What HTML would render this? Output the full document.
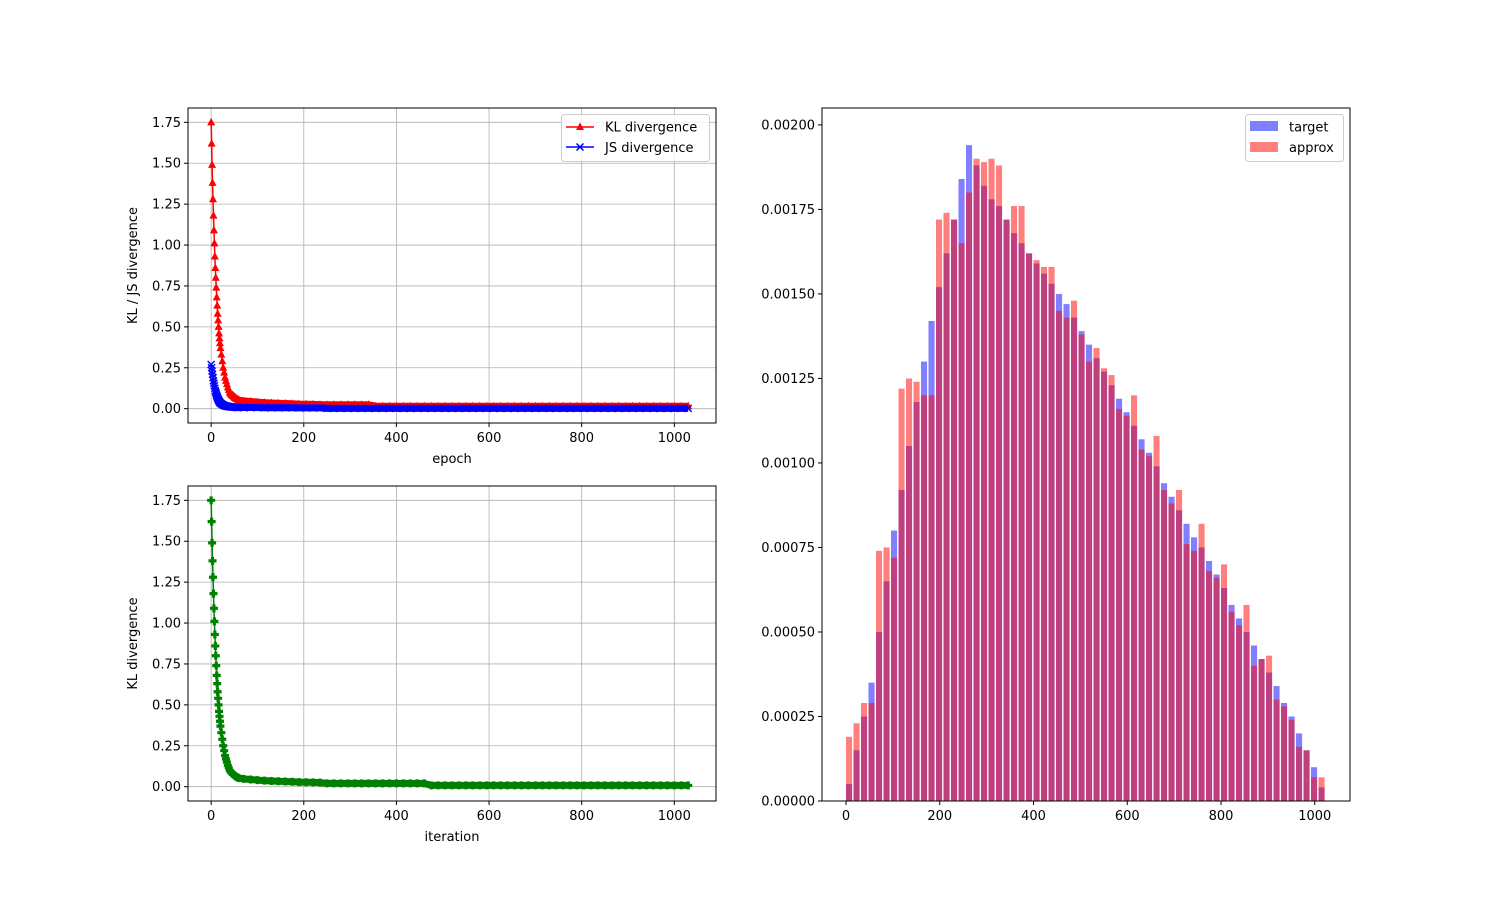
<!DOCTYPE html>
<html><head><meta charset="utf-8"><style>
body{margin:0;background:#fff;}
svg{font-family:"DejaVu Sans","Liberation Sans",sans-serif;}
</style></head><body>
<svg id="fig" width="1500" height="900" viewBox="0 0 1500 900" xmlns="http://www.w3.org/2000/svg"></svg>
<script>
// ---- data ----
const klEarly=[1.75,1.62,1.49,1.38,1.28,1.18,1.09,1.01,0.93,0.86,0.80,0.74,0.68,0.63,0.58,0.54,0.50,0.46,0.43,0.40,0.37];
const klMid=[0.33,0.29,0.25,0.22,0.19,0.17,0.15,0.13,0.115,0.10,0.09,0.085,0.08,0.075,0.07,0.065,0.06,0.058,0.055,0.052];
const klTail=[0.048,0.044,0.04,0.037,0.035,0.033,0.032,0.03,0.028,0.027,0.026,0.025,
0.024,0.024,0.024,0.024,0.024,0.024,0.024,
0.015,0.015,0.015,0.015,0.015,0.015,0.015,0.015,0.015,0.015,0.015,0.015,0.015,0.015,0.015,0.015,0.015,0.015,0.015,0.015,0.015,0.015,0.015,0.015,0.015,0.015,0.015,0.015,0.015,0.015,0.015,0.015,0.015,0.015,0.015,0.015,0.015,0.015,0.015,0.015,0.015,0.015,0.015,0.015,0.015,0.015,0.015];
const jsEarly=[0.27,0.25,0.23,0.21,0.19,0.17,0.155,0.14,0.125,0.11,0.10,0.09,0.08,0.072,0.065,0.058,0.052,0.047,0.042,0.038,0.034];
const jsMid=[0.03,0.026,0.023,0.02,0.018,0.016,0.015,0.014,0.013,0.012,0.011,0.011,0.010,0.010,0.009,0.009,0.008,0.008,0.008,0.007];
const jsTail=[0.007,0.007,0.007,0.006,0.006,0.006,0.006,0.006,0.005,0.005,0.005,0.005,
0.002,0.002,0.002,0.002,0.002,0.002,0.002,0.002,0.002,0.002,0.002,0.002,0.002,0.002,0.002,0.002,0.002,0.002,0.002,0.002,0.002,0.002,0.002,0.002,0.002,0.002,0.002,0.002,0.002,0.002,0.002,0.002,0.002,0.002,0.002,0.002,0.002,0.002,0.002,0.002,0.002,0.002,0.002,0.002,0.002,0.002,0.002,0.002,0.002,0.002,0.002,0.002,0.002,0.002];
const itTail=[0.048,0.044,0.04,0.037,0.035,0.033,0.032,0.03,0.028,0.027,0.026,0.025,
0.02,0.02,0.02,0.02,0.02,0.02,0.02,0.02,0.02,0.02,0.02,0.02,0.02,0.02,0.02,
0.008,0.008,0.008,0.008,0.008,0.008,0.008,0.008,0.008,0.008,0.008,0.008,0.008,0.008,0.008,0.008,0.008,0.008,0.008,0.008,0.008,0.008,0.008,0.008,0.008,0.008,0.008,0.008,0.008,0.008,0.008,0.008,0.008,0.008,0.008,0.008,0.008,0.008,0.008];
const divTicks=[0,0.25,0.5,0.75,1.0,1.25,1.5,1.75];
const divTickLabels=["0.00","0.25","0.50","0.75","1.00","1.25","1.50","1.75"];
const xTicks=[0,200,400,600,800,1000];
const histBinStarts=[0,16,32,48,64,80,96,112,128,144,160,176,192,208,224,240,256,272,288,304,320,336,352,368,384,400,416,432,448,464,480,496,512,528,544,560,576,592,608,624,640,656,672,688,704,720,736,752,768,784,800,816,832,848,864,880,896,912,928,944,960,976,992,1008];
const target=[0.00005,0.00015,0.00025,0.00035,0.0005,0.00065,0.0008,0.00092,0.00105,0.00118,0.0013,0.00142,0.00152,0.00162,0.00172,0.00184,0.00194,0.00188,0.00182,0.00178,0.00176,0.00172,0.00168,0.00165,0.00162,0.00159,0.00156,0.00153,0.0015,0.00147,0.00143,0.00139,0.00135,0.00131,0.00127,0.00123,0.00119,0.00115,0.00111,0.00107,0.00103,0.00099,0.00094,0.0009,0.00086,0.00082,0.00078,0.00075,0.00071,0.00067,0.00063,0.00058,0.00054,0.0005,0.00046,0.00042,0.00038,0.00034,0.00029,0.00025,0.0002,0.00015,0.0001,0.00004];
const approx=[0.00019,0.00023,0.00029,0.00029,0.00074,0.00075,0.00072,0.00122,0.00125,0.00124,0.0012,0.0012,0.00172,0.00174,0.00172,0.00165,0.0018,0.0019,0.00189,0.0019,0.00188,0.00172,0.00176,0.00176,0.00162,0.0016,0.00158,0.00158,0.00145,0.00143,0.00148,0.00138,0.0013,0.00134,0.00128,0.00126,0.00116,0.00114,0.0012,0.00104,0.00102,0.00108,0.00092,0.00088,0.00092,0.00076,0.00074,0.00082,0.00068,0.00066,0.0007,0.00056,0.00052,0.00058,0.0004,0.00042,0.00043,0.0003,0.00028,0.00024,0.00016,0.00015,0.00007,0.00007];
const histYTicks=[0,0.00025,0.0005,0.00075,0.001,0.00125,0.0015,0.00175,0.002];
const histYLabels=["0.00000","0.00025","0.00050","0.00075","0.00100","0.00125","0.00150","0.00175","0.00200"];

const epochs=[];
for(let i=0;i<=20;i++)epochs.push(i);
for(let i=22;i<=60;i+=2)epochs.push(i);
for(let i=70;i<=1030;i+=15)epochs.push(i);
const klVals=klEarly.concat(klMid,klTail);
const jsVals=jsEarly.concat(jsMid,jsTail);
const itVals=klEarly.concat(klMid,itTail);

const NS="http://www.w3.org/2000/svg";
const fig=document.getElementById('fig');
function mk(tag,attrs,parent){const e=document.createElementNS(NS,tag);for(const k in attrs)e.setAttribute(k,attrs[k]);(parent||fig).appendChild(e);return e;}
function txt(s,attrs,parent){const e=mk('text',attrs,parent);e.textContent=s;return e;}

function axes(name,x0,y0,x1,y1,xmin,xmax,ymin,ymax){
  const g=mk('g',{});
  
  
  const sx=v=>x0+(v-xmin)/(xmax-xmin)*(x1-x0);
  const sy=v=>y1-(v-ymin)/(ymax-ymin)*(y1-y0);
  return {g,sx,sy,x0,y0,x1,y1};
}
function frame(A,yt){
  const g=A.g;
  xTicks.forEach(t=>{const l=mk('line',{x1:A.sx(t),x2:A.sx(t),y1:A.y0,y2:A.y1,stroke:'#b0b0b0','stroke-width':0.8},g);});
  yt.forEach(t=>{const l=mk('line',{x1:A.x0,x2:A.x1,y1:A.sy(t),y2:A.sy(t),stroke:'#b0b0b0','stroke-width':0.8},g);});
}
function spines(A,yt,ytl,xlabel,ylabel,ylx){
  const g=A.g;
  const r=mk('rect',{x:A.x0,y:A.y0,width:A.x1-A.x0,height:A.y1-A.y0,fill:'none',stroke:'#000','stroke-width':1},g);
  
  xTicks.forEach(t=>{mk('line',{x1:A.sx(t),x2:A.sx(t),y1:A.y1,y2:A.y1+4,stroke:'#000','stroke-width':1},g);
    const e=txt(String(t),{x:A.sx(t),y:A.y1+19,'font-size':13,'text-anchor':'middle',fill:'#000'},g);});
  yt.forEach((t,i)=>{mk('line',{x1:A.x0-4,x2:A.x0,y1:A.sy(t),y2:A.sy(t),stroke:'#000','stroke-width':1},g);
    const e=txt(ytl[i],{x:A.x0-7,y:A.sy(t)+4.5,'font-size':13,'text-anchor':'end',fill:'#000'},g);});
  if(xlabel){const e=txt(xlabel,{x:(A.x0+A.x1)/2,y:A.y1+40,'font-size':13,'text-anchor':'middle'},g);}
  if(ylabel){const cy=(A.y0+A.y1)/2;const e=txt(ylabel,{x:ylx,y:cy,'font-size':13,'text-anchor':'middle',transform:`rotate(-90 ${ylx} ${cy})`},g);}
}
function series(A,xs,ys,color,marker,name){
  const g=mk('g',{},A.g);
  
  
  const pts=xs.map((x,i)=>A.sx(x).toFixed(2)+','+A.sy(ys[i]).toFixed(2)).join(' ');
  mk('polyline',{points:pts,fill:'none',stroke:color,'stroke-width':1.5},g);
  // dense-marker band for later epochs
  const tailPts=xs.map((x,i)=>[x,ys[i]]).filter(p=>p[0]>=40).map(p=>A.sx(p[0]).toFixed(2)+','+A.sy(p[1]).toFixed(2)).join(' ');
  mk('polyline',{points:tailPts,fill:'none',stroke:color,'stroke-width':7,'stroke-linejoin':'round'},g);
  xs.forEach((x,i)=>{const cx=A.sx(x),cy=A.sy(ys[i]);let m;
    if(marker==='tri')m=mk('polygon',{points:`${cx},${cy-4.5} ${cx-4},${cy+3} ${cx+4},${cy+3}`,fill:color},g);
    else if(marker==='x')m=mk('path',{d:`M${cx-3.5},${cy-3.5}L${cx+3.5},${cy+3.5}M${cx-3.5},${cy+3.5}L${cx+3.5},${cy-3.5}`,stroke:color,'stroke-width':1.5},g);
    else m=mk('path',{d:`M${cx-1.6},${cy-4}h3.2v2.4h2.4v3.2h-2.4v2.4h-3.2v-2.4h-2.4v-3.2h2.4z`,fill:color},g);
    
  });
}

// Top-left
const A1=axes('kl-js-chart',188,108,716,423,-50,1090,-0.0875,1.8375);
frame(A1,divTicks);
series(A1,epochs,klVals,'#ff0000','tri','kl-divergence-series');
series(A1,epochs,jsVals,'#0000ff','x','js-divergence-series');
spines(A1,divTicks,divTickLabels,'epoch','KL / JS divergence',137);
(function(){const g=mk('g',{},A1.g);
 mk('rect',{x:561.5,y:114.5,width:148,height:47,rx:3,fill:'#fff','fill-opacity':0.8,stroke:'#ccc'},g);
 mk('line',{x1:566,x2:594,y1:127,y2:127,stroke:'#ff0000','stroke-width':1.5},g);
 mk('polygon',{points:'580,122.5 576,130 584,130',fill:'#ff0000'},g);
 let t=txt('KL divergence',{x:605,y:131.5,'font-size':13},g);
 mk('line',{x1:566,x2:594,y1:147,y2:147,stroke:'#0000ff','stroke-width':1.5},g);
 mk('path',{d:'M576.5,143.5L583.5,150.5M576.5,150.5L583.5,143.5',stroke:'#0000ff','stroke-width':1.5},g);
 t=txt('JS divergence',{x:605,y:152,'font-size':13},g);
})();

// Bottom-left
const A2=axes('kl-iteration-chart',188,486,716,801,-50,1090,-0.0875,1.8375);
frame(A2,divTicks);
series(A2,epochs,itVals,'#008000','plus','kl-iteration-series');
spines(A2,divTicks,divTickLabels,'iteration','KL divergence',137);

// Right histogram
const A3=axes('histogram-chart',822,108,1350,801,-51.2,1075.2,0,0.00205);
(function(){
  const bw=13;
  const gb=mk('g',{},A3.g);
  histBinStarts.forEach((b,i)=>{const x=A3.sx(b),w=A3.sx(b+bw)-x;const r=mk('rect',{x:x,y:A3.sy(target[i]),width:w,height:A3.y1-A3.sy(target[i]),fill:'#0000ff','fill-opacity':0.5},gb);
    });
  const gr=mk('g',{},A3.g);
  histBinStarts.forEach((b,i)=>{const x=A3.sx(b),w=A3.sx(b+bw)-x;const r=mk('rect',{x:x,y:A3.sy(approx[i]),width:w,height:A3.y1-A3.sy(approx[i]),fill:'#ff0000','fill-opacity':0.5},gr);
    });
})();
spines(A3,histYTicks,histYLabels,null,null,0);
(function(){const g=mk('g',{},A3.g);
 mk('rect',{x:1245.5,y:114.5,width:98,height:47,rx:3,fill:'#fff','fill-opacity':0.8,stroke:'#ccc'},g);
 mk('rect',{x:1250,y:121,width:28,height:10,fill:'#0000ff','fill-opacity':0.5},g);
 let t=txt('target',{x:1289,y:131.5,'font-size':13},g);
 mk('rect',{x:1250,y:142,width:28,height:10,fill:'#ff0000','fill-opacity':0.5},g);
 t=txt('approx',{x:1289,y:152,'font-size':13},g);
})();
</script>
</body></html>
